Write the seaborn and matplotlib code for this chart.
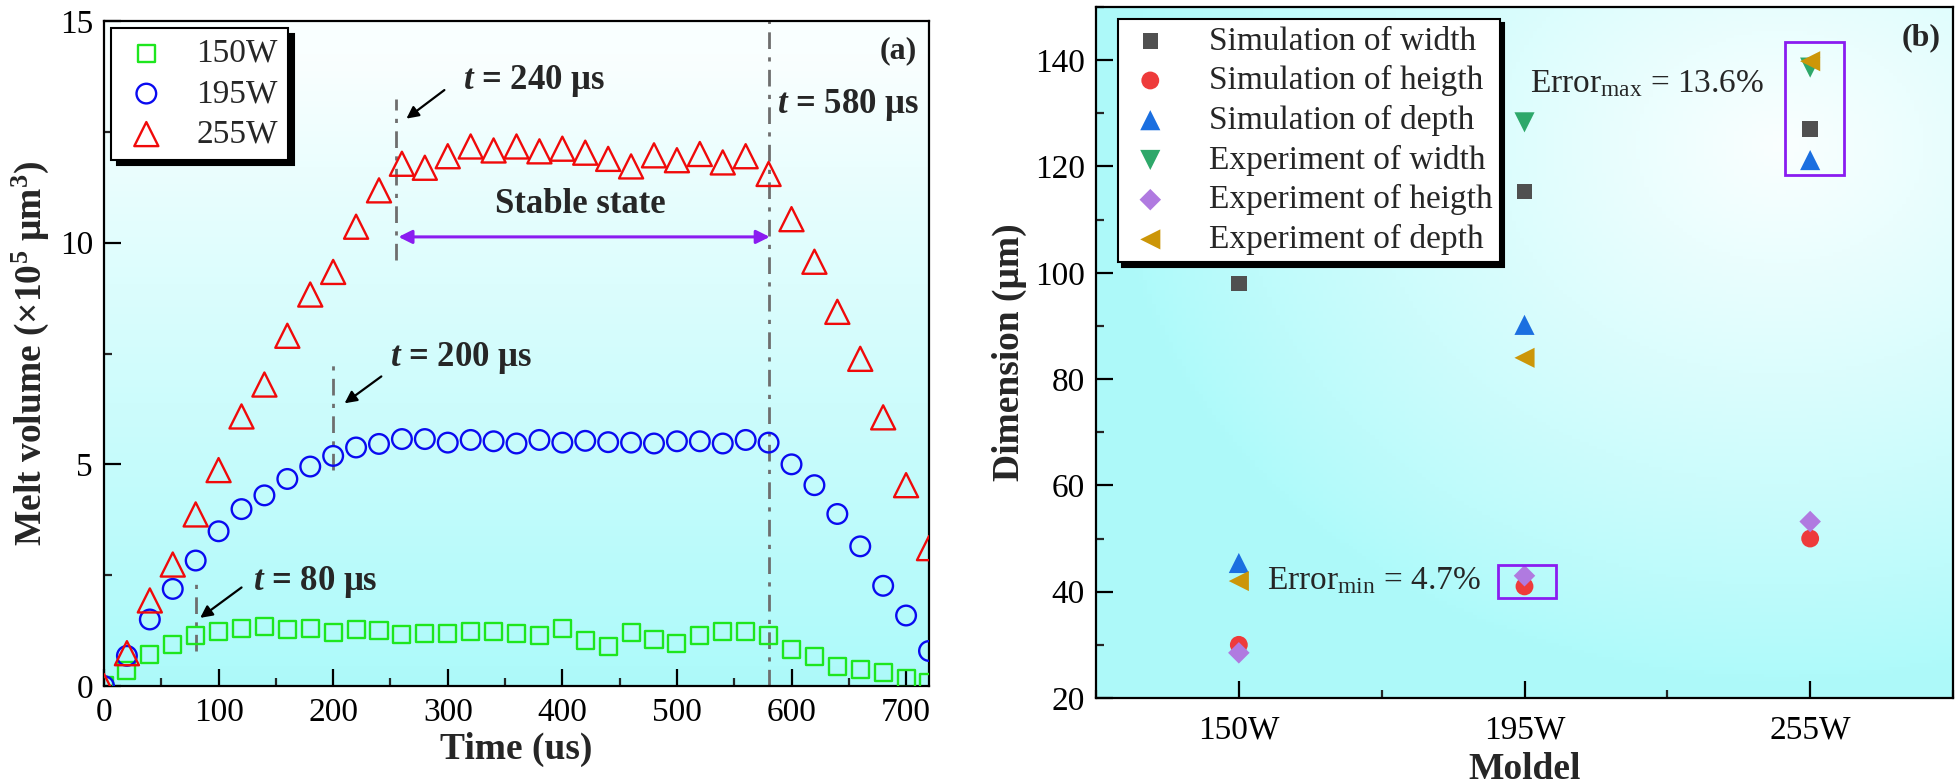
import numpy as np
import pandas as pd
import matplotlib
matplotlib.use("Agg")
import matplotlib.pyplot as plt
import seaborn as sns
from matplotlib.ticker import MultipleLocator
from matplotlib.patches import Rectangle

# ---------------- data: panel (a) ----------------
time_us = [0, 20, 40, 60, 80, 100, 120, 140, 160, 180, 200, 220, 240, 260, 280,
           300, 320, 340, 360, 380, 400, 420, 440, 460, 480, 500, 520, 540, 560,
           580, 600, 620, 640, 660, 680, 700, 720]
vol_150W = [0.0, 0.34, 0.71, 0.93, 1.13, 1.22, 1.30, 1.34, 1.27, 1.30, 1.20, 1.27,
            1.25, 1.16, 1.18, 1.18, 1.22, 1.22, 1.19, 1.13, 1.30, 1.02, 0.88, 1.21,
            1.04, 0.96, 1.13, 1.22, 1.22, 1.13, 0.82, 0.66, 0.45, 0.37, 0.31, 0.17, 0.09]
vol_195W = [0.0, 0.68, 1.50, 2.19, 2.83, 3.49, 3.99, 4.30, 4.67, 4.95, 5.19, 5.38,
            5.46, 5.57, 5.57, 5.49, 5.55, 5.52, 5.47, 5.55, 5.49, 5.53, 5.50, 5.49,
            5.47, 5.52, 5.52, 5.47, 5.55, 5.49, 5.00, 4.53, 3.88, 3.15, 2.26, 1.59, 0.79]
vol_255W = [0.0, 0.74, 1.93, 2.74, 3.87, 4.87, 6.08, 6.80, 7.90, 8.83, 9.34, 10.36,
            11.18, 11.78, 11.69, 11.95, 12.17, 12.08, 12.17, 12.06, 12.12, 12.03, 11.89, 11.72,
            11.97, 11.86, 12.00, 11.81, 11.95, 11.55, 10.53, 9.57, 8.44, 7.38, 6.06, 4.53, 3.11]
series_a_labels = ["150W", "195W", "255W"]
marker_times = [80, 200, 255, 580]

# ---------------- data: panel (b) ----------------
models = ["150W", "195W", "255W"]
sim_width = [98.0, 115.3, 127.0]
sim_height = [30.0, 41.0, 50.0]
sim_depth = [45.4, 90.2, 121.2]
exp_width = [np.nan, 128.3, 138.6]
exp_height = [28.5, 43.0, 53.2]
exp_depth = [42.0, 84.0, 139.8]
series_b_labels = ["Simulation of width", "Simulation of heigth", "Simulation of depth",
                   "Experiment of width", "Experiment of heigth", "Experiment of depth"]

# ---------------- style ----------------
sns.set_theme(style="ticks")
plt.rcParams["font.family"] = ["Liberation Serif", "DejaVu Serif"]
plt.rcParams["mathtext.fontset"] = "custom"
plt.rcParams["mathtext.rm"] = "Liberation Serif"
plt.rcParams["mathtext.it"] = "Liberation Serif:style=italic:weight=bold"
plt.rcParams["mathtext.bf"] = "Liberation Serif:weight=bold"
plt.rcParams["axes.linewidth"] = 1.6

TICK = 24
LEG = 24
LAB = 27
ANN = 25
CYAN = np.array([0.68, 0.98, 0.98])
WHITE = np.array([0.98, 1.0, 1.0])

fig = plt.figure(figsize=(19.6, 7.84), dpi=100)
ax1 = fig.add_axes([104 / 1960, 1 - 686 / 784, 825 / 1960, 665 / 784])
ax2 = fig.add_axes([1096 / 1960, 1 - 698 / 784, 857 / 1960, 691 / 784])


def style_axes(ax):
    ax.tick_params(which="major", direction="in", length=12, width=1.6,
                   labelsize=TICK, pad=8, colors="black")
    ax.tick_params(which="minor", direction="in", length=6, width=1.6)
    ax.tick_params(top=False, right=False, which="both")
    for s in ax.spines.values():
        s.set_color("black")
        s.set_linewidth(1.6)


# ---- gradients ----
ny, nx = 200, 200
yy, xx = np.mgrid[0:1:ny * 1j, 0:1:nx * 1j]
t_lin = np.clip(yy / 0.95, 0, 1)
grad1 = CYAN + (WHITE - CYAN) * t_lin[..., None] ** 1.1
ax1.imshow(grad1, extent=[0, 1, 0, 1], transform=ax1.transAxes, origin="lower",
           aspect="auto", zorder=0)
d = np.sqrt((xx - 0.8) ** 2 + (yy - 0.8) ** 2)
t_rad = np.clip(1 - d / 0.78, 0, 1)
grad2 = CYAN + (WHITE - CYAN) * t_rad[..., None] ** 0.9
ax2.imshow(grad2, extent=[0, 1, 0, 1], transform=ax2.transAxes, origin="lower",
           aspect="auto", zorder=0)

# ---------------- panel (a) ----------------
df_a = pd.DataFrame({"time": time_us, "150W": vol_150W, "195W": vol_195W, "255W": vol_255W})
spec_a = {"150W": ("s", "#1ee61e", 150), "195W": ("o", "#0a0af0", 200), "255W": ("^", "#f00a0a", 300)}
handles_a = []
for lab in series_a_labels:
    mk, col, sz = spec_a[lab]
    sns.scatterplot(data=df_a, x="time", y=lab, marker=mk, s=sz, facecolor="none",
                    edgecolor=col, linewidth=1.7, ax=ax1, zorder=3, clip_on=True)
    handles_a.append(ax1.collections[-1])

ax1.set_xlim(0, 720)
ax1.set_ylim(0, 15)
ax1.xaxis.set_major_locator(MultipleLocator(100))
ax1.xaxis.set_minor_locator(MultipleLocator(50))
ax1.yaxis.set_major_locator(MultipleLocator(5))
ax1.yaxis.set_minor_locator(MultipleLocator(2.5))
style_axes(ax1)
ax1.set_xlabel("Time (us)", fontsize=LAB, fontweight="bold", labelpad=3)
ax1.set_ylabel(r"Melt volume (×10$^{\mathbf{5}}$ μm$^{\mathbf{3}}$)", fontsize=LAB,
               fontweight="bold", labelpad=6)

dash_kw = dict(color="#6e6e6e", linestyle=(0, (6, 3, 1.5, 3)), linewidth=2.0, zorder=2)
ax1.plot([marker_times[0]] * 2, [0.79, 2.32], **dash_kw)
ax1.plot([marker_times[1]] * 2, [4.87, 7.27], **dash_kw)
ax1.plot([marker_times[2]] * 2, [9.6, 13.25], **dash_kw)
ax1.plot([marker_times[3]] * 2, [0, 15], **dash_kw)

arrow_kw = dict(arrowstyle="-|>", color="black", lw=1.6, mutation_scale=18)
ax1.annotate("", xy=(262, 12.76), xytext=(299, 13.48), arrowprops=arrow_kw, zorder=4)
ax1.annotate("", xy=(208, 6.34), xytext=(244, 7.02), arrowprops=arrow_kw, zorder=4)
ax1.annotate("", xy=(82, 1.5), xytext=(122, 2.26), arrowprops=arrow_kw, zorder=4)

txt_kw = dict(fontsize=ANN, fontweight="bold", va="center", ha="left", zorder=5)
ax1.text(313, 13.65, r"$t$ = 240 μs", **txt_kw)
ax1.text(250, 7.4, r"$t$ = 200 μs", **txt_kw)
ax1.text(130, 2.35, r"$t$ = 80 μs", **txt_kw)
ax1.text(587, 13.1, r"$t$ = 580 μs", **txt_kw)
ax1.text(416, 10.85, "Stable state", fontsize=ANN, fontweight="bold", ha="center",
         va="center", zorder=5)
ax1.annotate("", xy=(581, 10.13), xytext=(257, 10.13),
             arrowprops=dict(arrowstyle="<|-|>", color="#8a1cf0", lw=2.2,
                             mutation_scale=20, shrinkA=0, shrinkB=0), zorder=4)
ax1.text(0.985, 0.955, "(a)", transform=ax1.transAxes, fontsize=23, fontweight="bold",
         ha="right", va="center")

leg1 = ax1.legend(handles_a, series_a_labels, loc="upper left", bbox_to_anchor=(0.0, 1.0),
                  fontsize=LEG, frameon=True, fancybox=False, framealpha=1,
                  edgecolor="black", borderaxespad=0.22, borderpad=0.3,
                  handlelength=1.5, handletextpad=0.75, labelspacing=0.3,
                  scatterpoints=1,
                  shadow={"color": "black", "alpha": 1, "ox": 4, "oy": -4})
leg1.get_frame().set_linewidth(1.5)
leg1.set_zorder(10)

# ---------------- panel (b) ----------------
df_b = pd.DataFrame({"model": models, "sw": sim_width, "sh": sim_height, "sd": sim_depth,
                     "ew": exp_width, "eh": exp_height, "ed": exp_depth})
spec_b = [("sw", "s", "#505050", 125), ("sh", "o", "#ee3b3b", 165), ("sd", "^", "#1b6fe0", 210),
          ("ew", "v", "#2ea86a", 210), ("eh", "D", "#b07ae0", 120), ("ed", "<", "#cc9608", 210)]
handles_b = []
for (col_name, mk, col, sz), lab in zip(spec_b, series_b_labels):
    sns.scatterplot(data=df_b, x="model", y=col_name, marker=mk, s=sz, color=col,
                    edgecolor="none", linewidth=0, ax=ax2, zorder=3)
    handles_b.append(ax2.collections[-1])

ax2.set_xlim(-0.5, 2.5)
ax2.set_ylim(20, 150)
ax2.xaxis.set_minor_locator(MultipleLocator(0.5))
ax2.yaxis.set_major_locator(MultipleLocator(20))
ax2.yaxis.set_minor_locator(MultipleLocator(10))
style_axes(ax2)
ax2.tick_params(axis="x", which="major", pad=12)
ax2.set_xlabel("Moldel", fontsize=LAB, fontweight="bold", labelpad=5)
ax2.set_ylabel("Dimension (μm)", fontsize=LAB, fontweight="bold", labelpad=6)

rect_kw = dict(fill=False, edgecolor="#8a1cf0", linewidth=2.0, zorder=4)
ax2.add_patch(Rectangle((0.908, 38.8), 0.201, 6.3, **rect_kw))
ax2.add_patch(Rectangle((1.913, 118.4), 0.207, 25.0, **rect_kw))
ax2.text(1.02, 135.6, r"Error$_{\mathrm{max}}$ = 13.6%", fontsize=TICK, ha="left",
         va="center", zorder=5)
ax2.text(0.10, 42.0, r"Error$_{\mathrm{min}}$ = 4.7%", fontsize=TICK, ha="left",
         va="center", zorder=5)
ax2.text(0.985, 0.955, "(b)", transform=ax2.transAxes, fontsize=23, fontweight="bold",
         ha="right", va="center")

leg2 = ax2.legend(handles_b, series_b_labels, loc="upper left", bbox_to_anchor=(0.012, 1.0),
                  fontsize=LEG, frameon=True, fancybox=False, framealpha=1,
                  edgecolor="black", borderaxespad=0.35, borderpad=0.22,
                  handlelength=1.5, handletextpad=1.0, labelspacing=0.26,
                  scatterpoints=1,
                  shadow={"color": "black", "alpha": 1, "ox": 3, "oy": -3})
leg2.get_frame().set_linewidth(1.5)
leg2.set_zorder(10)

fig.savefig("out.png", dpi=100)
